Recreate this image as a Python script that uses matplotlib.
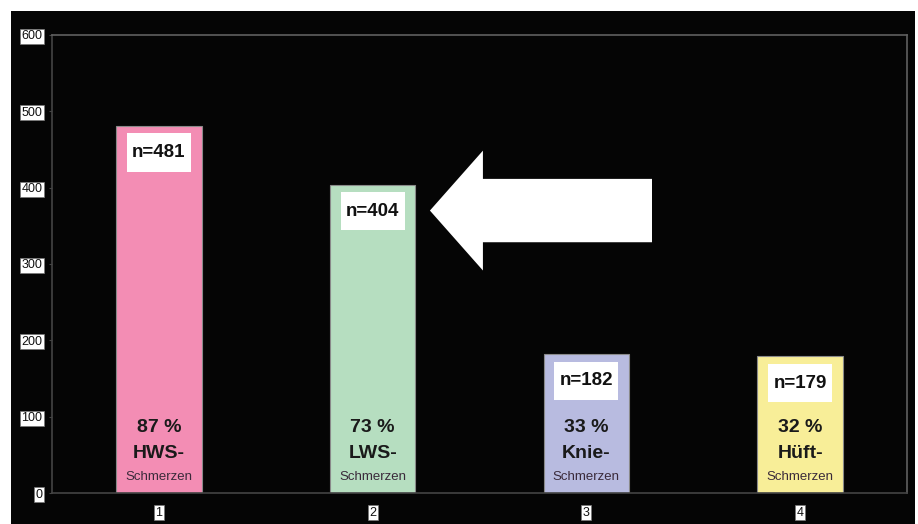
import matplotlib.pyplot as plt
from matplotlib.patches import Rectangle, FancyArrow

# Bar data
positions = [1, 2, 3, 4]
counts = [481, 404, 182, 179]
percents = ['87 %', '73 %', '33 %', '32 %']
regions = ['HWS-', 'LWS-', 'Knie-', 'Hüft-']
bar_colors = ['#F38DB4', '#B6DEC0', '#B8BBE0', '#F8EE98']
y_ticks = [0, 100, 200, 300, 400, 500, 600]

plt.rcParams['font.family'] = ['Liberation Sans', 'DejaVu Sans']

fig = plt.figure(figsize=(9.18, 5.24), dpi=100)
fig.patch.set_facecolor('white')
# black slide background behind the axes
fig.patches.append(Rectangle((11 / 918, 0), 904 / 918, 513 / 524,
                             transform=fig.transFigure, facecolor='#050505',
                             edgecolor='none', zorder=-10))

ax = fig.add_axes([52 / 918, 31 / 524, 855 / 918, 458 / 524])
ax.set_facecolor('#050505')

ax.bar(positions, counts, width=0.4, color=bar_colors, edgecolor='#8a8a8a',
       linewidth=0.8, zorder=2)

box_w, box_h = 0.30, 50
for x, n, pct, reg in zip(positions, counts, percents, regions):
    # white label box inside the top of each bar
    ax.add_patch(Rectangle((x - box_w / 2, n - 35 - box_h / 2), box_w, box_h,
                           facecolor='white', edgecolor='none', zorder=3))
    ax.text(x, n - 35, f'n={n}', ha='center', va='center', fontsize=13.5,
            fontweight='bold', color='#111111', zorder=4)
    ax.text(x, 86, pct, ha='center', va='center', fontsize=14,
            fontweight='bold', color='#1a1a1a', zorder=4)
    ax.text(x, 52, reg, ha='center', va='center', fontsize=14,
            fontweight='bold', color='#1a1a1a', zorder=4)
    ax.text(x, 21, 'Schmerzen', ha='center', va='center', fontsize=9.5,
            color='#3a2a3a', zorder=4)

# arrow pointing at the LWS bar
arrow = FancyArrow(3.307, 370, -1.039, 0, width=83, head_width=157,
                   head_length=0.248, length_includes_head=True,
                   facecolor='white', edgecolor='none', zorder=3)
ax.add_patch(arrow)

ax.set_xlim(0.5, 4.5)
ax.set_ylim(0, 600)
ax.set_xticks(positions)
ax.set_xticklabels([str(p) for p in positions])
ax.set_yticks(y_ticks)
ax.set_yticklabels([str(t) for t in y_ticks])

ax.tick_params(axis='y', length=2, color='#444444', pad=5, labelsize=9,
               labelcolor='#111111')
ax.tick_params(axis='x', length=0, pad=10, labelsize=9, labelcolor='#111111')
for lbl in ax.get_yticklabels() + ax.get_xticklabels():
    lbl.set_bbox(dict(facecolor='white', edgecolor='#777777', linewidth=0.5,
                      boxstyle='square,pad=0.12'))

for side in ['left', 'bottom']:
    ax.spines[side].set_color('#444444')
    ax.spines[side].set_linewidth(1.2)
for side in ['top', 'right']:
    ax.spines[side].set_color('#606060')
    ax.spines[side].set_linewidth(1.2)

fig.savefig('out.png', dpi=100, facecolor=fig.get_facecolor())
